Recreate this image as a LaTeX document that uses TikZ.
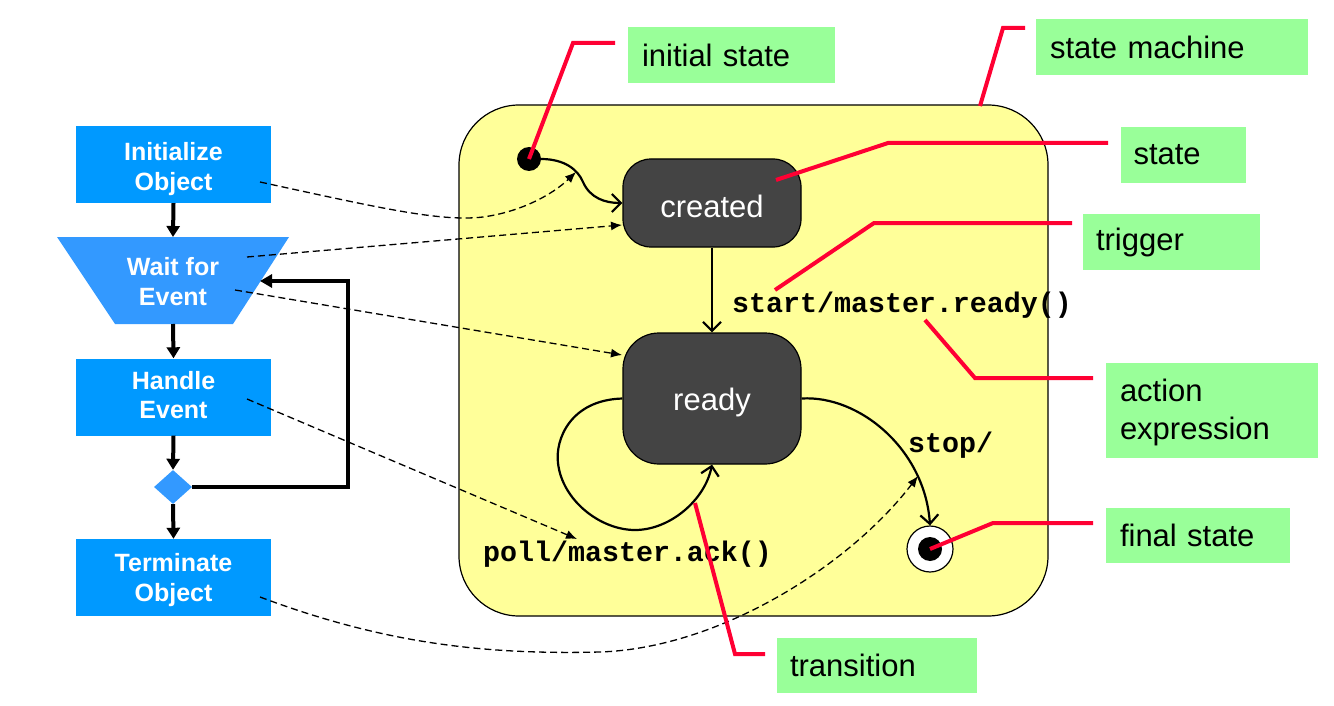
\documentclass[tikz,border=0pt]{standalone}
\usepackage{fontspec}
\setmainfont{Liberation Sans}
\setmonofont{Liberation Mono}
\usetikzlibrary{shapes.geometric,arrows.meta}
\definecolor{boxblue}{RGB}{0,153,255}
\definecolor{trapblue}{RGB}{51,153,255}
\definecolor{smyellow}{RGB}{255,255,153}
\definecolor{stategray}{RGB}{68,68,68}
\definecolor{calloutgreen}{RGB}{153,255,153}
\definecolor{callred}{RGB}{255,0,51}
\newcommand{\lowered}[2]{\raisebox{#1}[\height][\depth]{#2}}
\begin{document}
\begin{tikzpicture}[x=1pt,y=-1pt,
  flowbox/.style={rectangle, fill=boxblue, minimum width=195pt, minimum height=77pt, inner sep=0pt, align=center, text=white, font=\bfseries\fontsize{25}{30}\selectfont},
  flowtext/.style={inner sep=0pt, align=center, text=white, font=\bfseries\fontsize{25}{30}\selectfont},
  flowarrow/.style={line width=4pt, -{Triangle[length=11pt,width=13pt]}},
  loopline/.style={line width=3.5pt, -{Triangle[length=12pt,width=13pt]}},
  statebox/.style={rectangle, fill=stategray, draw=black, line width=1.2pt, minimum width=178pt, text=white, font=\fontsize{31}{36}\selectfont},
  trans/.style={line width=2.2pt, -{Straight Barb[length=9pt,width=18pt]}},
  dasharrow/.style={line width=1.3pt, dash pattern=on 7pt off 4pt, -{Latex[length=11pt,width=9pt]}},
  redline/.style={draw=callred, line width=4pt},
  callout/.style={rectangle, fill=calloutgreen, inner ysep=0pt, inner xsep=14pt, align=left, font=\fontsize{31}{39}\selectfont},
  codetext/.style={inner sep=0pt, anchor=base west, font=\ttfamily\bfseries\fontsize{28.3}{32}\selectfont}
]
\useasboundingbox (0,0) rectangle (1334,706);

% state machine background
\node[rectangle, rounded corners=60pt, fill=smyellow, draw=black, line width=1.2pt,
      minimum width=589pt, minimum height=511pt] (sm) at (753.5,360.5) {};

% ---- flowchart ----
\node[flowbox] (init) at (173.5,164.5) {\lowered{-5pt}{\begin{tabular}{@{}c@{}}Initialize\\[-0.5pt]Object\end{tabular}}};
\fill[trapblue] (57,237) -- (289,237) -- (233,324) -- (115,324) -- cycle;
\node[flowtext] (wait) at (173,282) {Wait for\\Event};
\coordinate (waittop) at (173,237);
\coordinate (waitbot) at (173,324);
\coordinate (waitright) at (260,281);
\node[flowbox] (handle) at (173.5,397) {\lowered{-1pt}{\begin{tabular}{@{}c@{}}Handle\\[-0.5pt]Event\end{tabular}}};
\node[diamond, fill=trapblue, minimum width=38pt, minimum height=34pt, inner sep=0pt] (dia) at (173,487) {};
\node[flowbox] (term) at (173.5,577.5) {\lowered{-3pt}{\begin{tabular}{@{}c@{}}Terminate\\[0pt]Object\end{tabular}}};

\draw[flowarrow] (init.south) -- (waittop);
\draw[flowarrow] (waitbot) -- (handle.north);
\draw[flowarrow] (handle.south) -- (dia.north);
\draw[flowarrow] (dia.south) -- (term.north);
\draw[loopline] (dia.east) -- (348,487) -- (348,281) -- (waitright);

% ---- states ----
\fill[black] (529,159) circle (12pt);
\coordinate (idot) at (529,159);
\coordinate (idotE) at (541,159);
\node[statebox, minimum height=88pt, rounded corners=28pt] (created) at (712,203) {\lowered{-3pt}{created}};
\node[statebox, minimum height=131pt, rounded corners=36pt] (ready) at (712,398.5) {\lowered{-4pt}{ready}};
\node[circle, fill=white, draw=black, line width=1.2pt, minimum size=46pt, inner sep=0pt] (final) at (930,549) {};
\fill[black] (final.center) circle (12pt);

\draw[trans] (idotE) .. controls (565,159) and (578,170) .. (583,182)
   .. controls (590,198) and (605,203) .. (created.west);
\draw[trans] (created.south) -- (ready.north);
\draw[trans] (ready.west) .. controls (570,400) and (555,440) .. (558,463)
   .. controls (562,500) and (600,530) .. (635,530)
   .. controls (670,530) and (705,500) .. (ready.south);
\draw[trans] (ready.east) .. controls (860,395) and (925,450) .. (final.north);

\node[codetext] (trigtxt) at (732,312) {start/master.ready()};
\node[codetext] (polltxt) at (483,561) {poll/master.ack()};
\node[codetext] (stoptxt) at (908,452) {stop/};

% ---- dashed mappings ----
\coordinate (initout) at (260,182);
\coordinate (initin) at (576,172);
\coordinate (waitout1) at (247,257);
\coordinate (waitout2) at (235,290);
\coordinate (createdin) at (622,225);
\coordinate (readyin) at (622,355);
\coordinate (handleout) at (247,399);
\coordinate (pollin) at (577,539);
\coordinate (termout) at (260,597);
\coordinate (stopin) at (918,476);

\draw[dasharrow] (initout) .. controls (380,208) and (440,222) .. (483,217)
   .. controls (520,212) and (552,195) .. (initin);
\draw[dasharrow] (waitout1) -- (createdin);
\draw[dasharrow] (waitout2) -- (readyin);
\draw[dasharrow] (handleout) -- (pollin);
\draw[dasharrow] (termout) .. controls (380,642) and (480,655) .. (600,652)
   .. controls (720,648) and (850,565) .. (stopin);

% ---- callouts ----
\node[callout, text width=179pt, minimum height=56pt] (cinit) at (731.5,55) {initial state};
\node[callout, text width=244pt, minimum height=56pt] (csm) at (1172,47) {state machine};
\node[callout, text width=99pt, inner xsep=13pt, minimum height=56pt] (cstate) at (1183,155) {state};
\node[callout, text width=151pt, inner xsep=13pt, minimum height=56pt] (ctrig) at (1171.5,242) {trigger};
\node[callout, text width=184pt, minimum height=95pt] (caction) at (1212,410.5) {\lowered{-2pt}{\begin{tabular}{@{}l@{}}action\\[-1pt]expression\end{tabular}}};
\node[callout, text width=156pt, minimum height=55pt] (cfinal) at (1198,535.5) {final state};
\node[callout, text width=174pt, inner xsep=13pt, minimum height=55pt] (ctrans) at (877,665.5) {transition};

\coordinate (rinit) at (615,43);
\coordinate (rsm) at (1025,28);
\coordinate (rstate) at (1108,143);
\coordinate (rtrig) at (1072,223);
\coordinate (raction) at (1093,378);
\coordinate (rfinal) at (1093,523);
\coordinate (rtrans) at (765,654);

\draw[redline] (idot) -- (573,43) -- (rinit);
\draw[redline] (980,106) -- (1003,28) -- (rsm);
\draw[redline] (776,180) -- (888,143) -- (rstate);
\draw[redline] (775,290) -- (874,223) -- (rtrig);
\draw[redline] (925,320) -- (975,378) -- (raction);
\draw[redline] (final.center) -- (993,523) -- (rfinal);
\draw[redline] (695,503) -- (735,654) -- (rtrans);
\end{tikzpicture}
\end{document}
